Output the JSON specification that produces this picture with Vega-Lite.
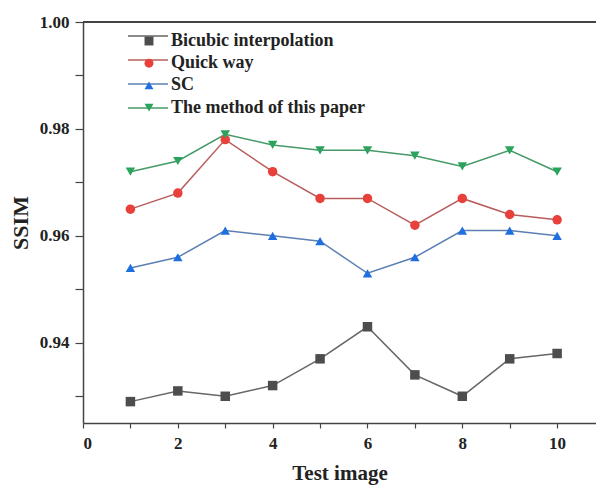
{
  "$schema": "https://vega.github.io/schema/vega-lite/v6.json",
  "width": 513,
  "height": 401,
  "autosize": {"type": "none"},
  "padding": {"left": 83, "top": 22, "right": 0, "bottom": 65},
  "background": "white",
  "config": {
    "view": {"stroke": null},
    "font": "Liberation Serif",
    "axis": {
      "domainColor": "#444",
      "domainWidth": 1.5,
      "tickColor": "#444",
      "tickWidth": 1.2,
      "grid": false,
      "labelFont": "Liberation Serif",
      "labelFontWeight": "bold",
      "labelColor": "#222",
      "titleFont": "Liberation Serif",
      "titleFontWeight": "bold",
      "titleColor": "#222"
    },
    "legend": {
      "labelFont": "Liberation Serif",
      "labelFontWeight": "bold",
      "labelLimit": 400
    }
  },
  "data": {
    "values": [
      {"x": 1, "v": 0.929, "series": "Bicubic interpolation", "s2": "Bicubic interpolation"},
      {"x": 2, "v": 0.931, "series": "Bicubic interpolation", "s2": "Bicubic interpolation"},
      {"x": 3, "v": 0.930, "series": "Bicubic interpolation", "s2": "Bicubic interpolation"},
      {"x": 4, "v": 0.932, "series": "Bicubic interpolation", "s2": "Bicubic interpolation"},
      {"x": 5, "v": 0.937, "series": "Bicubic interpolation", "s2": "Bicubic interpolation"},
      {"x": 6, "v": 0.943, "series": "Bicubic interpolation", "s2": "Bicubic interpolation"},
      {"x": 7, "v": 0.934, "series": "Bicubic interpolation", "s2": "Bicubic interpolation"},
      {"x": 8, "v": 0.930, "series": "Bicubic interpolation", "s2": "Bicubic interpolation"},
      {"x": 9, "v": 0.937, "series": "Bicubic interpolation", "s2": "Bicubic interpolation"},
      {"x": 10, "v": 0.938, "series": "Bicubic interpolation", "s2": "Bicubic interpolation"},
      {"x": 1, "v": 0.965, "series": "Quick way", "s2": "Quick way"},
      {"x": 2, "v": 0.968, "series": "Quick way", "s2": "Quick way"},
      {"x": 3, "v": 0.978, "series": "Quick way", "s2": "Quick way"},
      {"x": 4, "v": 0.972, "series": "Quick way", "s2": "Quick way"},
      {"x": 5, "v": 0.967, "series": "Quick way", "s2": "Quick way"},
      {"x": 6, "v": 0.967, "series": "Quick way", "s2": "Quick way"},
      {"x": 7, "v": 0.962, "series": "Quick way", "s2": "Quick way"},
      {"x": 8, "v": 0.967, "series": "Quick way", "s2": "Quick way"},
      {"x": 9, "v": 0.964, "series": "Quick way", "s2": "Quick way"},
      {"x": 10, "v": 0.963, "series": "Quick way", "s2": "Quick way"},
      {"x": 1, "v": 0.954, "series": "SC", "s2": "SC"},
      {"x": 2, "v": 0.956, "series": "SC", "s2": "SC"},
      {"x": 3, "v": 0.961, "series": "SC", "s2": "SC"},
      {"x": 4, "v": 0.960, "series": "SC", "s2": "SC"},
      {"x": 5, "v": 0.959, "series": "SC", "s2": "SC"},
      {"x": 6, "v": 0.953, "series": "SC", "s2": "SC"},
      {"x": 7, "v": 0.956, "series": "SC", "s2": "SC"},
      {"x": 8, "v": 0.961, "series": "SC", "s2": "SC"},
      {"x": 9, "v": 0.961, "series": "SC", "s2": "SC"},
      {"x": 10, "v": 0.960, "series": "SC", "s2": "SC"},
      {"x": 1, "v": 0.972, "series": "The method of this paper", "s2": "The method of this paper"},
      {"x": 2, "v": 0.974, "series": "The method of this paper", "s2": "The method of this paper"},
      {"x": 3, "v": 0.979, "series": "The method of this paper", "s2": "The method of this paper"},
      {"x": 4, "v": 0.977, "series": "The method of this paper", "s2": "The method of this paper"},
      {"x": 5, "v": 0.976, "series": "The method of this paper", "s2": "The method of this paper"},
      {"x": 6, "v": 0.976, "series": "The method of this paper", "s2": "The method of this paper"},
      {"x": 7, "v": 0.975, "series": "The method of this paper", "s2": "The method of this paper"},
      {"x": 8, "v": 0.973, "series": "The method of this paper", "s2": "The method of this paper"},
      {"x": 9, "v": 0.976, "series": "The method of this paper", "s2": "The method of this paper"},
      {"x": 10, "v": 0.972, "series": "The method of this paper", "s2": "The method of this paper"}
    ]
  },
  "encoding": {
    "x": {
      "field": "x",
      "type": "quantitative",
      "scale": {"domain": [0, 10.82], "nice": false, "zero": false},
      "axis": {
        "title": "Test image",
        "values": [0, 1, 2, 3, 4, 5, 6, 7, 8, 9, 10],
        "labelExpr": "datum.value % 2 === 0 ? datum.label : ''",
        "labelFontSize": 17,
        "labelPadding": 7,
        "tickSize": 5,
        "titleFontSize": 21,
        "titlePadding": 11
      }
    },
    "y": {
      "field": "v",
      "type": "quantitative",
      "scale": {"domain": [0.925, 1.0], "nice": false, "zero": false},
      "axis": {
        "title": "SSIM",
        "values": [0.93, 0.94, 0.95, 0.96, 0.97, 0.98, 0.99, 1.0],
        "format": ".2f",
        "labelExpr": "round(datum.value * 100) % 2 === 0 ? datum.label : ''",
        "labelFontSize": 17,
        "labelPadding": 6,
        "tickSize": 8,
        "titleFontSize": 22,
        "titlePadding": 7
      }
    }
  },
  "layer": [
    {
      "mark": {"type": "rule", "color": "#444", "strokeWidth": 1.5},
      "encoding": {"y": {"datum": 1.0}, "x": {"value": 0}, "x2": {"value": 513}}
    },
    {
      "mark": {"type": "line", "strokeWidth": 1.5},
      "encoding": {
        "stroke": {
          "field": "series",
          "type": "nominal",
          "scale": {"range": ["#666666", "#b85c5c", "#5b7fb5", "#469a68"]},
          "legend": {
            "title": null,
            "orient": "none",
            "legendX": 44,
            "legendY": -7,
            "symbolType": "stroke",
            "symbolSize": 1600,
            "symbolStrokeWidth": 1.5,
            "labelFontSize": 1,
            "labelColor": "transparent",
            "rowPadding": 0,
            "padding": 0
          }
        }
      }
    },
    {
      "mark": {"type": "point", "filled": true, "size": 90, "opacity": 1},
      "encoding": {
        "shape": {
          "field": "s2",
          "type": "nominal",
          "scale": {"range": ["square", "circle", "triangle-up", "triangle-down"]},
          "legend": {
            "title": null,
            "orient": "none",
            "legendX": 57,
            "legendY": 10,
            "symbolSize": 80,
            "labelFontSize": 18,
            "labelOffset": 13,
            "labelColor": "#222",
            "rowPadding": 4.2,
            "padding": 0
          }
        },
        "fill": {
          "field": "s2",
          "type": "nominal",
          "scale": {"range": ["#4d4d4d", "#e8413c", "#1f6fe0", "#2ba35c"]}
        }
      }
    }
  ]
}
